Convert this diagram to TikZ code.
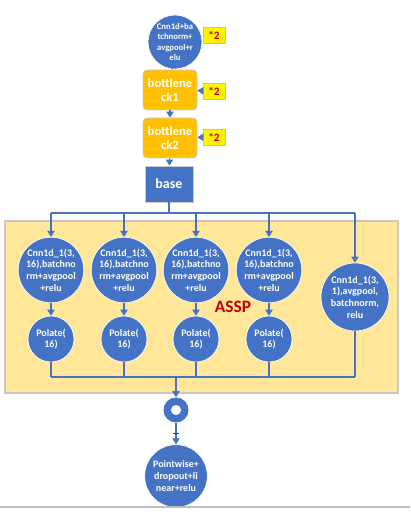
\documentclass[tikz,border=0pt]{standalone}
\usepackage{fontspec}
\setmainfont{Carlito}
\usetikzlibrary{shapes,arrows.meta}
\definecolor{blu}{HTML}{4472C4}
\definecolor{orng}{HTML}{FFC000}
\definecolor{pale}{HTML}{FFE699}
\definecolor{dred}{HTML}{C00000}

\begin{document}
\begin{tikzpicture}[x=0.75pt,y=-0.75pt,
  circ/.style={circle,fill=blu,draw=white,line width=0.5pt,text=white,
    font=\bfseries\fontsize{7.5}{8.8}\selectfont,align=center,inner sep=0pt,minimum size=#1},
  block/.style={rectangle,rounded corners=3pt,fill=orng,draw=black!20,line width=0.6pt,text=white,
    font=\bfseries\fontsize{9.5}{11}\selectfont,align=center,minimum width=40.5pt,minimum height=30pt,inner sep=0pt},
  times/.style={rectangle,fill=yellow,draw=black!25,line width=0.6pt,text=dred,
    font=\bfseries\fontsize{8.5}{9}\selectfont,minimum width=16.5pt,minimum height=12pt,inner sep=0pt},
  link/.style={draw=blu,line width=0.8pt},
  arr/.style={link,-{Triangle[width=5.5pt,length=4.5pt]}}]
  \useasboundingbox (0,0) rectangle (410,516);

  % ASSP panel
  \draw[fill=pale,draw=black!22,line width=0.8pt] (5,221) rectangle (398,393);
  \node[text=dred,font=\bfseries\fontsize{13}{15}\selectfont] (assp) at (233,307) {ASSP};

  % stem
  \node[circ=40.5pt,font=\bfseries\fontsize{6.5}{7.9}\selectfont] (stem) at (175,42) {Cnn1d+ba\\tchnorm+\\avgpool+r\\elu};
  \node[times] (m1) at (214,35) {*2};
  \node[block] (bn1) at (170,90) {bottlene\\ck1};
  \node[times] (m2) at (214,91) {*2};
  \node[block] (bn2) at (170,138) {bottlene\\ck2};
  \node[times] (m3) at (214,137) {*2};
  \node[rectangle,fill=blu,draw=black!20,line width=0.6pt,text=white,
    font=\bfseries\fontsize{10.5}{12}\selectfont,minimum width=36pt,minimum height=27pt] (base) at (169,184) {base};

  % branches
  \node[circ=48pt] (c1) at (51,270) {Cnn1d\_1(3,\\16),batchno\\rm+avgpool\\+relu};
  \node[circ=48pt] (c2) at (124,270) {Cnn1d\_1(3,\\16),batchno\\rm+avgpool\\+relu};
  \node[circ=48pt] (c3) at (196,270) {Cnn1d\_1(3,\\16),batchno\\rm+avgpool\\+relu};
  \node[circ=48pt] (c4) at (269,270) {Cnn1d\_1(3,\\16),batchno\\rm+avgpool\\+relu};
  \node[circ=51pt] (c5) at (355,297) {Cnn1d\_1(3,\\1),avgpool,\\batchnorm,\\relu};
  \foreach \i/\x in {1/51,2/124,3/196,4/269}
    \node[circ=34.5pt] (p\i) at (\x,339) {Polate(\\16)};

  % merge
  \node[circle,fill=blu,minimum size=18.75pt,inner sep=0pt] (sum) at (176,410) {};
  \fill[white] (sum) circle (3.8pt);
  \node[circ=47pt] (head) at (176,476) {Pointwise+\\dropout+li\\near+relu};

  \coordinate (fork) at (169,213);
  \coordinate (join) at (176,377);

  \draw[arr] (stem) -- (bn1);
  \draw[arr] (bn1) -- (bn2);
  \draw[arr] (bn2) -- (base);
  \draw[arr] (m2) -- (bn1);
  \draw[arr] (m3) -- (bn2);

  \draw[link] (base) -- (fork);
  \draw[link] (c1|-fork) -- (c5|-fork);
  \foreach \n in {c1,c2,c3,c4,c5}
    \draw[arr] (\n|-fork) -- (\n);
  \foreach \i in {1,2,3,4} {
    \draw[arr] (c\i) -- (p\i);
    \draw[link] (p\i) -- (p\i|-join);
  }
  \draw[link] (c5) -- (c5|-join);
  \draw[link] (p1|-join) -- (c5|-join);
  \draw[arr] (join) -- (sum);
  \draw[arr] (sum) -- (head);
  \draw[dred,line width=0.6pt] (173,433) -- (179,433);

  \draw[black!25,line width=0.8pt] (0,507) -- (410,507);
\end{tikzpicture}
\end{document}
